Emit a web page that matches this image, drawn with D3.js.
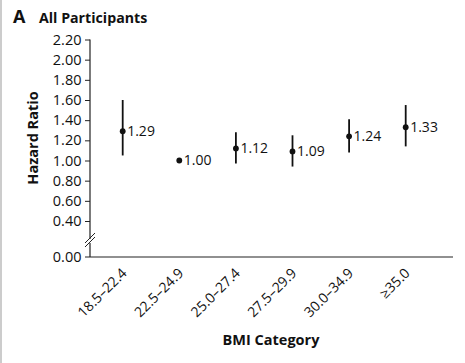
<!DOCTYPE html>
<html>
<head>
<meta charset="utf-8">
<script src="https://cdn.jsdelivr.net/npm/d3@7"></script>
<style>
  body { margin: 0; background: #fff; }
  text { font-family: "Open Sans", sans-serif; fill: #111; }
</style>
</head>
<body>
<svg id="chart"></svg>
<script>
const width = 465;
const height = 363;

// chart data
const categories = ["18.5\u201322.4", "22.5\u201324.9", "25.0\u201327.4", "27.5\u201329.9", "30.0\u201334.9", "\u226535.0"];
const hazard = [1.29, 1.00, 1.12, 1.09, 1.24, 1.33];
const lower = [1.05, null, 0.97, 0.94, 1.08, 1.14];
const upper = [1.60, null, 1.28, 1.25, 1.41, 1.55];
const yTicks = [0.40, 0.60, 0.80, 1.00, 1.20, 1.40, 1.60, 1.80, 2.00, 2.20];

const svg = d3.select("#chart")
    .attr("width", width)
    .attr("height", height);

// faint frame edge on the left
svg.append("line")
    .attr("x1", 1).attr("x2", 1)
    .attr("y1", 0).attr("y2", height)
    .attr("stroke", "#ccc")
    .attr("stroke-width", 2);

const axisX = 90;
const baseY = 257;

// y scale for the upper (broken) part
const y = d3.scaleLinear().domain([0.4, 2.2]).range([221, 39.5]);
const x = d3.scalePoint().domain(categories).range([122.7, 405.7]);

// title
svg.append("text")
    .attr("x", 13).attr("y", 23)
    .attr("font-size", 18).attr("font-weight", "bold")
    .text("A");
svg.append("text")
    .attr("x", 39).attr("y", 23)
    .attr("font-size", 14.2).attr("font-weight", "bold")
    .text("All Participants");

// y axis
const yAxis = svg.append("g")
    .attr("transform", `translate(${axisX},0)`)
    .call(d3.axisLeft(y).tickValues(yTicks).tickSize(5).tickSizeOuter(0).tickFormat(d3.format(".2f")));
yAxis.select(".domain").remove();
yAxis.selectAll(".tick line").attr("stroke", "#222");
yAxis.selectAll(".tick text")
    .attr("font-size", 14.5)
    .attr("font-family", "'Open Sans', sans-serif")
    .attr("fill", "#111")
    .attr("x", -8.5);

// axis line with break
svg.append("line")
    .attr("x1", axisX).attr("x2", axisX)
    .attr("y1", y(2.2)).attr("y2", 239)
    .attr("stroke", "#222").attr("stroke-width", 1.2);
svg.append("line")
    .attr("x1", axisX).attr("x2", axisX)
    .attr("y1", 243).attr("y2", baseY)
    .attr("stroke", "#222").attr("stroke-width", 1.2);
[0, 4].forEach(dy => {
    svg.append("line")
        .attr("x1", axisX - 5).attr("y1", 243 + dy)
        .attr("x2", axisX + 5).attr("y2", 233 + dy)
        .attr("stroke", "#222").attr("stroke-width", 1);
});

// zero tick
svg.append("line")
    .attr("x1", axisX - 5).attr("x2", axisX)
    .attr("y1", baseY).attr("y2", baseY)
    .attr("stroke", "#222");
svg.append("text")
    .attr("x", axisX - 8.5).attr("y", baseY)
    .attr("dy", "0.32em")
    .attr("text-anchor", "end")
    .attr("font-size", 14.5)
    .text("0.00");

// x axis line
svg.append("line")
    .attr("x1", axisX).attr("x2", 453)
    .attr("y1", baseY).attr("y2", baseY)
    .attr("stroke", "#222").attr("stroke-width", 1.2);

// category labels
svg.append("g")
    .selectAll("text")
    .data(categories)
    .join("text")
    .attr("transform", d => `translate(${x(d) + 5},${baseY + 17}) rotate(-45)`)
    .attr("text-anchor", "end")
    .attr("font-size", 14)
    .text(d => d);

// axis titles
svg.append("text")
    .attr("transform", `translate(38,138) rotate(-90)`)
    .attr("text-anchor", "middle")
    .attr("font-size", 14.5).attr("font-weight", "bold")
    .text("Hazard Ratio");
svg.append("text")
    .attr("x", 271).attr("y", 345)
    .attr("text-anchor", "middle")
    .attr("font-size", 14.5).attr("font-weight", "bold")
    .text("BMI Category");

// confidence intervals
const pts = categories.map((c, i) => ({ c, hr: hazard[i], lo: lower[i], hi: upper[i] }));
svg.append("g")
    .selectAll("line")
    .data(pts.filter(d => d.lo != null))
    .join("line")
    .attr("x1", d => x(d.c)).attr("x2", d => x(d.c))
    .attr("y1", d => y(d.hi)).attr("y2", d => y(d.lo))
    .attr("stroke", "#111").attr("stroke-width", 1.8);

svg.append("g")
    .selectAll("circle")
    .data(pts)
    .join("circle")
    .attr("cx", d => x(d.c)).attr("cy", d => y(d.hr))
    .attr("r", 2.9)
    .attr("fill", "#111");

svg.append("g")
    .selectAll("text")
    .data(pts)
    .join("text")
    .attr("x", d => x(d.c) + 4.5)
    .attr("y", d => y(d.hr))
    .attr("dy", "0.35em")
    .attr("font-size", 14)
    .text(d => d3.format(".2f")(d.hr));
</script>
</body>
</html>
